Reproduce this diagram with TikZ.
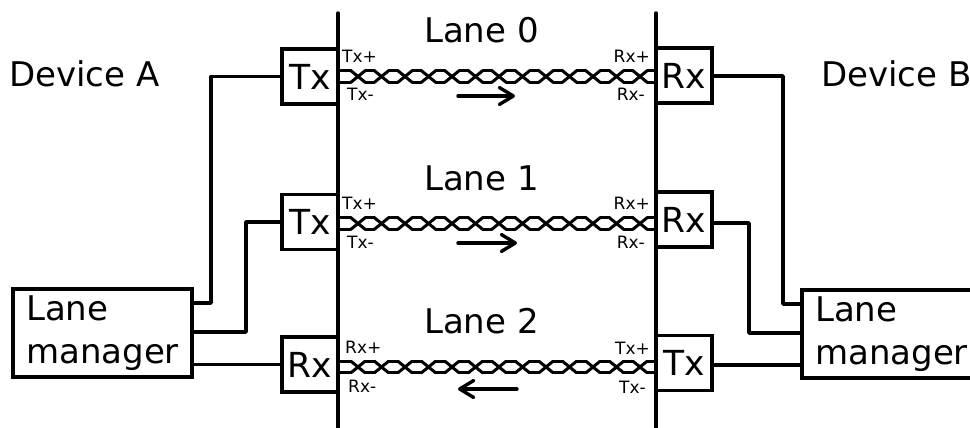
\documentclass[tikz,border=0pt]{standalone}
\usepackage{fontspec}
\setmainfont{DejaVu Sans}
\usetikzlibrary{arrows.meta}
\newcommand{\bigtxt}{\fontsize{34}{43}\selectfont}
\newcommand{\boxtxt}{\fontsize{34.5}{43}\selectfont}
\newcommand{\smalltxt}{\fontsize{17}{20}\selectfont}
% \twistpair{left coordinate}{right coordinate}: two crossing wires between two named ends
\newcommand{\twistpair}[2]{%
  \path (#1) coordinate (twl) (#2) coordinate (twr);
  \foreach \k in {0,...,12}{%
    \pgfmathsetmacro{\c}{358+23.5*\k}
    \draw[wire] ([xshift=\c pt-338pt-7pt,yshift=5.7pt]twl) -- ([xshift=\c pt-338pt+7pt,yshift=-5.7pt]twl)
                ([xshift=\c pt-338pt-7pt,yshift=-5.7pt]twl) -- ([xshift=\c pt-338pt+7pt,yshift=5.7pt]twl);
    \pgfmathsetmacro{\d}{\c+7}
    \pgfmathsetmacro{\e}{\k==12?656:\c+16.5}
    \draw[wire] ([xshift=\d pt-338pt,yshift=5.7pt]twl) -- ([xshift=\e pt-338pt,yshift=5.7pt]twl)
                ([xshift=\d pt-338pt,yshift=-5.7pt]twl) -- ([xshift=\e pt-338pt,yshift=-5.7pt]twl);
  }
  \draw[wire] ([yshift=5.7pt]twl) -- ++(13,0) ([yshift=-5.7pt]twl) -- ++(13,0);
}
\tikzset{
  line/.style={line width=3.4pt,line cap=round,line join=round},
  wire/.style={line width=3pt,line cap=round,line join=round},
  box/.style={draw,line width=3.4pt,inner sep=0pt,minimum width=56pt,minimum height=55pt,font=\boxtxt},
  mgr/.style={draw,line width=3.4pt,inner xsep=13pt,inner ysep=0pt,minimum height=88pt,align=left,font=\bigtxt},
  big/.style={anchor=base,inner sep=0pt,font=\bigtxt},
  tinyl/.style={anchor=base west,inner sep=0pt,font=\smalltxt},
  tinyr/.style={anchor=base east,inner sep=0pt,font=\smalltxt},
  flow/.style={line width=3.4pt,line cap=round,-{Straight Barb[length=14pt,width=17pt,line width=3.4pt,round]}},
}
\begin{document}
\begin{tikzpicture}[x=1pt,y=-1pt]
\useasboundingbox (0,0) rectangle (970,428);
% walls
\coordinate (wallAt) at (338,13); \coordinate (wallAb) at (338,428);
\coordinate (wallBt) at (656,13); \coordinate (wallBb) at (656,428);
\draw[line] (wallAt) -- (wallAb);
\draw[line] (wallBt) -- (wallBb);
% boxes
\node[box] (tx0) at (310,76.5) {Tx};
\node[box] (tx1) at (310,222) {Tx};
\node[box] (rx2) at (310,364.5) {Rx};
\node[box] (rx0) at (684,75.5) {Rx};
\node[box] (rx1) at (684,219.5) {Rx};
\node[box] (tx2) at (684,363) {Tx};
\node[mgr] (lmA) at (102.5,333) {Lane\\manager};
\node[mgr] (lmB) at (891.5,334) {Lane\\manager};
% connectors
\draw[line] (tx0.west) -| (211,303) -- (lmA.east |- 211,303);
\draw[line] (tx1.west) -| (246,332) -- (lmA.east |- 246,332);
\draw[line] (rx2.west) -- (lmA.east |- rx2.west);
\draw[line] (rx0.east |- 783,76) -| (783,304) -- (lmB.west |- 783,304);
\draw[line] (rx1.east |- 749,223) -| (749,333) -- (lmB.west |- 749,333);
\draw[line] (tx2.east |- 802,365) -- (lmB.west |- 802,365);
% twisted pairs
\coordinate (a0) at (338,76.5); \coordinate (b0) at (656,76.5);
\coordinate (a1) at (338,223.5); \coordinate (b1) at (656,223.5);
\coordinate (a2) at (338,367); \coordinate (b2) at (656,367);
\twistpair{a0}{b0}
\twistpair{a1}{b1}
\twistpair{a2}{b2}
% direction arrows
\coordinate (f0a) at (458,96); \coordinate (f0b) at (515,96);
\coordinate (f1a) at (458,243); \coordinate (f1b) at (517,243);
\coordinate (f2a) at (517,389); \coordinate (f2b) at (458,389);
\draw[flow] (f0a) -- (f0b);
\draw[flow] (f1a) -- (f1b);
\draw[flow] (f2a) -- (f2b);
% labels
\node[big] (l0) at (481.5,43) {Lane 0};
\node[big] (l1) at (481.5,190) {Lane 1};
\node[big] (l2) at (481.5,333) {Lane 2};
\node[big,anchor=base west] (da) at (9,87) {Device A};
\node[big,anchor=base west] (db) at (821,87) {Device B};
\node[tinyl] (t1) at (342,63) {Tx+};
\node[tinyl] (t2) at (347,101) {Tx-};
\node[tinyl] (t3) at (342,209) {Tx+};
\node[tinyl] (t4) at (347,248) {Tx-};
\node[tinyl] (t5) at (345,353) {Rx+};
\node[tinyl] (t6) at (348,392) {Rx-};
\node[tinyr] (t7) at (650,63) {Rx+};
\node[tinyr] (t8) at (645,101) {Rx-};
\node[tinyr] (t9) at (650,209) {Rx+};
\node[tinyr] (t10) at (645,248) {Rx-};
\node[tinyr] (t11) at (650,354) {Tx+};
\node[tinyr] (t12) at (646,393) {Tx-};
\end{tikzpicture}
\end{document}
